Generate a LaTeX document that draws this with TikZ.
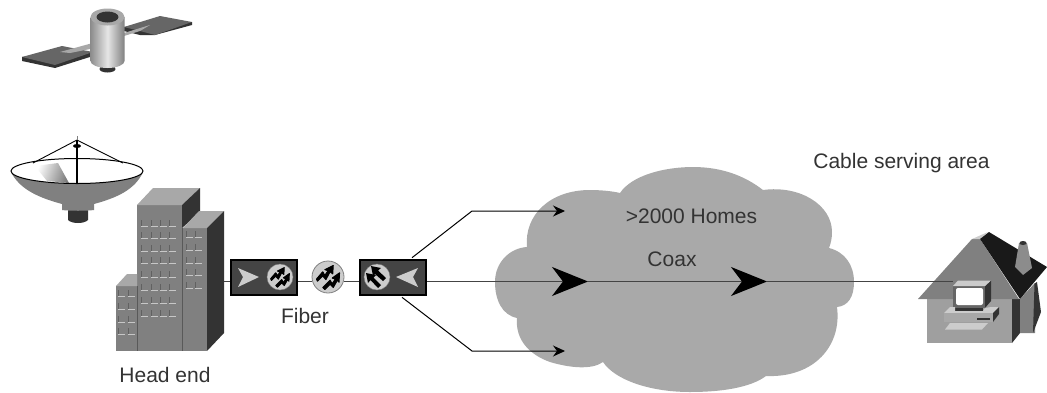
\documentclass[tikz,border=0pt]{standalone}
\usepackage{fontspec}
\setmainfont{Liberation Sans}
\usetikzlibrary{arrows.meta,calc}
\definecolor{txt}{HTML}{333333}
\definecolor{cloudc}{HTML}{A9A9A9}
\definecolor{dk}{HTML}{333333}
\definecolor{boxc}{HTML}{444444}
\definecolor{ltg}{HTML}{CCCCCC}
\definecolor{mid}{HTML}{808080}
\definecolor{roofg}{HTML}{A8A8A8}
\tikzset{
  label text/.style={font=\fontsize{21}{25}\selectfont,text=txt,inner sep=0pt},
  mux/.style={draw=black,line width=2.6pt,fill=boxc,minimum width=66pt,minimum height=35pt,inner sep=0pt},
  amp/.style={circle,draw=mid,line width=.8pt,fill=ltg,inner sep=0pt},
  fibre/.style={draw=boxc,line width=1pt},
  coax/.style={draw=boxc,line width=1.2pt},
  branch/.style={draw=black,line width=1pt,-{Stealth[length=12pt,width=11pt,inset=4pt]}},
  bigtip/.style={draw=boxc,line width=1.2pt,-{Stealth[length=36pt,width=29pt,inset=11pt,color=black]}},
  winv/.style={draw=black!62,line width=.9pt},
  winh/.style={draw=black!22,line width=.8pt},
  zigzag/.pic={
    \filldraw[black,line width=1pt,line join=round] (-11,2) -- (-5,-5) -- (-3,-1.5) -- (0,-6) -- (-3,-7) -- (5,-11) -- (4.5,-3) -- (2,-5) -- (-2,2.5) -- (-5,-1) -- (-10,4) -- cycle;
    \filldraw[black,line width=1pt,line join=round] (-5,10) -- (2,3) -- (4,6.5) -- (7,2) -- (4,1) -- (11,-4) -- (10.5,5) -- (9,3) -- (5,10) -- (2,7) -- (-3,12) -- cycle;
  },
  downzig/.pic={
    \fill[black] (-6,-11) -- (4,-9) -- (1,-6.5) -- (9,1) -- (6,4) -- (-2,-3) -- (-4,-1) -- cycle;
    \fill[black] (-11,-4) -- (-1,-2) -- (-3.5,.5) -- (4,8) -- (1,11) -- (-6.5,3) -- (-9,6) -- cycle;
  }
}
\begin{document}
\begin{tikzpicture}[x=1pt,y=-1pt]
\useasboundingbox (0,0) rectangle (1047,392);

% cloud
\fill[cloudc] (527,247) .. controls (524,215) and (550,190) .. (590,190)
 .. controls (600,190) and (612,191) .. (620,193)
 .. controls (632,175) and (665,167) .. (693,167)
 .. controls (722,167) and (745,176) .. (763,190)
 .. controls (800,185) and (832,205) .. (832,232)
 .. controls (832,238) and (831,243) .. (829,248)
 .. controls (845,252) and (854,265) .. (854,282)
 .. controls (854,297) and (848,306) .. (837,307)
 .. controls (842,345) and (815,378) .. (766,376)
 .. controls (750,388) and (720,392) .. (690,392)
 .. controls (650,392) and (615,380) .. (603,362)
 .. controls (592,370) and (570,368) .. (550,362)
 .. controls (530,355) and (515,340) .. (517,318)
 .. controls (502,315) and (495,300) .. (495,282)
 .. controls (495,262) and (510,248) .. (527,247) -- cycle;

% satellite
\fill[black!80] (22,57) -- (22,61) -- (55,68) -- (93,56) -- (93,52) -- cycle;
\fill[black!60] (22,57) -- (62,46) -- (93,52) -- (55,65) -- cycle;
\fill[black!80] (124,27) -- (124,31) -- (140,35) -- (155,35) -- (192,25) -- (192,22) -- cycle;
\fill[black!60] (124,27) -- (160,16) -- (192,22) -- (155,35) -- (140,31) -- cycle;
\fill[roofg] (60,52) -- (100,41) -- (100,47) -- (70,53) -- cycle;
\fill[roofg] (124,33) -- (150,25) -- (140,31) -- (124,36) -- cycle;
\fill[dk] (107.5,69) ellipse [x radius=8pt,y radius=3.5pt];
\shade[left color=black!45,right color=black!50,middle color=black!10]
  (90.5,17) -- (90.5,61) arc[start angle=180,end angle=360,x radius=17pt,y radius=7pt] -- (124.5,17) -- cycle;
\fill[roofg] (107.5,17) ellipse [x radius=17pt,y radius=8.5pt];
\fill[dk] (107.5,17) ellipse [x radius=11pt,y radius=5.5pt];

% dish
\fill[dk] (68,209) -- (68,220) .. controls (72,224) and (84,224) .. (88,220) -- (88,209) -- cycle;
\fill[mid] (11,172) .. controls (20,190) and (40,198) .. (62,204) -- (62,210) .. controls (70,211) and (86,211) .. (94,210)
  -- (94,204) .. controls (116,198) and (135,190) .. (143,172) -- cycle;
\fill[white] (77,171) ellipse [x radius=66pt,y radius=12.5pt];
\shade[left color=white,right color=black!50,shading angle=70]
  (35,166) -- (58,163) -- (69,183) -- (47,181) -- cycle;
\draw[black,line width=1pt] (77,171) ellipse [x radius=66pt,y radius=12.5pt];
\draw[black,line width=.9pt] (33,163) -- (77,140) -- (123,163);
\draw[black,line width=1.2pt] (77,140) -- (77,184);
\draw[mid,line width=.5pt] (77,136) -- (77,140);
\fill[black] (77,146) ellipse [x radius=4pt,y radius=2pt];

% building
\fill[mid] (137,205) rectangle (182,351);
\fill[roofg] (137,205) -- (153,188) -- (200,188) -- (182,205) -- cycle;
\fill[dk] (182,205) -- (200,188) -- (200,212) -- (182,228) -- cycle;
\fill[mid] (183,228) rectangle (207,351);
\fill[roofg] (183,228) -- (199,211) -- (224,211) -- (207,228) -- cycle;
\fill[dk] (207,228) -- (224,211) -- (224,333) -- (207,351) -- cycle;
\fill[mid] (116,286) rectangle (137,351);
\fill[roofg] (116,286) -- (127,274) -- (137,274) -- (137,286) -- cycle;
\draw[black!65,line width=.7pt] (137,286) -- (137,351) (182.5,228) -- (182.5,351);
\foreach \x in {141,151,160,169}
  \foreach \y in {226,238,251,263,277,290,303,316}
    {\draw[winv] (\x,\y-6) -- (\x,\y); \draw[winh] (\x,\y) -- (\x+7,\y);}
\foreach \x in {186,195}
  \foreach \y in {237,250,263,275,288}
    {\draw[winv] (\x,\y-6) -- (\x,\y); \draw[winh] (\x,\y) -- (\x+7,\y);}
\foreach \x in {118,128}
  \foreach \y in {296,309,322,334}
    {\draw[winv] (\x,\y-6) -- (\x,\y); \draw[winh] (\x,\y) -- (\x+7,\y);}

% house
\fill[roofg!110] (927,298) -- (927,343) -- (1012,343) -- (1012,298) -- cycle;
\fill[dk] (1012,299) -- (1020,299) -- (1020,333) -- (1012,343) -- cycle;
\fill[black!50] (1020,299) -- (1035,283) -- (1035,333) -- (1020,333) -- cycle;
\fill[dk] (1034.5,283.5) -- (1037,282) -- (1041,312) -- (1033,333) -- cycle;
\fill[mid] (918,299) -- (972,239) -- (980,239) -- (1019,299) -- cycle;
\fill[ltg] (972,239) -- (988,232) -- (980,239) -- cycle;
\fill[black!90] (980,239) -- (989,232) -- (1047,267) -- (1020,299) -- cycle;
\fill[black!45] (1015,267) -- (1019,243) -- (1027,243) -- (1032,268) -- (1023,275) -- cycle;
\fill[dk] (1023,243) ellipse [x radius=3.5pt,y radius=2pt];
% computer
\fill[dk] (955,308) rectangle (983,311);
\fill[black!60] (953,286) rectangle (985,308);
\fill[dk] (985,286) -- (991,280.5) -- (991,301) -- (985,308) -- cycle;
\fill[ltg] (953,286) -- (958,280.5) -- (991,280.5) -- (985,286) -- cycle;
\fill[white,rounded corners=2pt] (956,288) rectangle (983,305);
\fill[ltg] (944,313) -- (950,307) -- (955,307) -- (955,311) -- (983,311) -- (985,308) -- (991,307) -- (999,307) -- (993,313) -- cycle;
\fill[roofg] (944,313) rectangle (993,322);
\fill[dk] (993,313) -- (999,307) -- (999,314) -- (993,322) -- cycle;
\fill[dk] (977,318) rectangle (990,319.5);
\fill[ltg] (945,329.5) -- (950,323) -- (988,323) -- (982,329.5) -- cycle;

% electronics
\node[mux] (box1) at (264,277.5) {};
\node[mux] (box2) at (393,277.5) {};
\node[amp,minimum size=26pt,line width=.4pt] (c1) at (280,277) {};
\node[amp,minimum size=32pt] (c2) at (328,277) {};
\node[amp,minimum size=26pt,line width=.4pt] (c3) at (377,277) {};
\fill[ltg] (238,268) -- (259,277) -- (238,287) -- (243,277) -- cycle;
\fill[ltg] (396,277) -- (418,268) -- (413,277) -- (418,287) -- cycle;
\pic[scale=.85] at (c1) {zigzag};
\pic[scale=1.05] at (c2) {zigzag};
\pic[scale=1] at (c3) {downzig};

% connectors
\coordinate (bldg) at (224,281.5);
\coordinate (tipA) at (588,281.5);
\coordinate (tipB) at (767,281.5);
\coordinate (pc) at (953,281.5);
\coordinate (upj) at (472,211);
\coordinate (upe) at (565,211);
\coordinate (loj) at (472,351);
\coordinate (loe) at (565,351);
\draw[fibre] (bldg) -- (bldg -| box1.west);
\draw[fibre] (box1.east |- bldg) -- (bldg -| c2.west);
\draw[fibre] (bldg -| c2.east) -- (bldg -| box2.west);
\draw[bigtip] (box2.east |- bldg) -- (tipA);
\draw[bigtip] (tipA) -- (tipB);
\draw[coax] (tipB) -- (pc);
\draw[branch] ($(box2.north)+(19,-1)$) -- (upj) -- (upe);
\draw[branch] ($(box2.south)+(9,1)$) -- (loj) -- (loe);

% labels
\node[label text] (he) at (165,375) {Head end};
\node[label text] (fb) at (305,316) {Fiber};
\node[label text] (hm) at (691.5,216) {>2000 Homes};
\node[label text] (cx) at (672,259) {Coax};
\node[label text] (ca) at (901.5,163) {Cable serving area};
\end{tikzpicture}
\end{document}
